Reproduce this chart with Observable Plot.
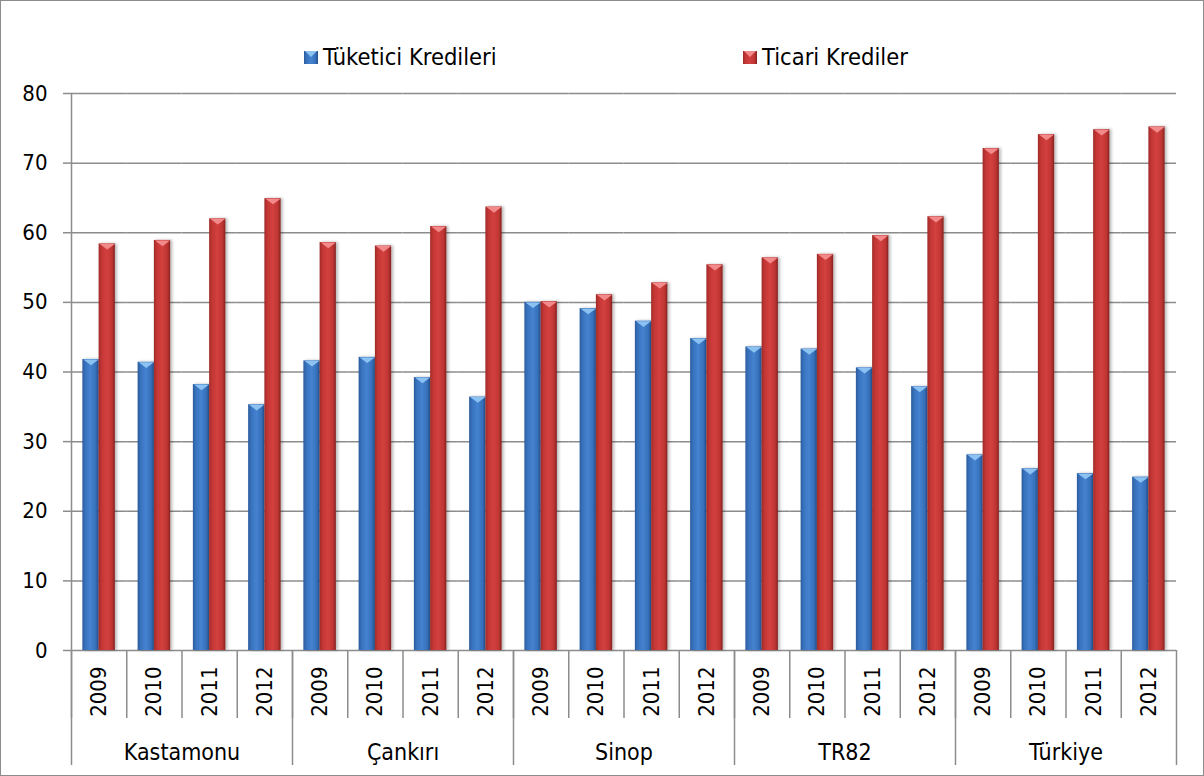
<!DOCTYPE html>
<html>
<head>
<meta charset="utf-8">
<script src="https://cdn.jsdelivr.net/npm/d3@7"></script>
<script src="https://cdn.jsdelivr.net/npm/@observablehq/plot@0.6"></script>
<style>
  html, body { margin: 0; padding: 0; background: #fff; }
  #wrap { position: relative; width: 1204px; height: 776px; overflow: hidden; background: #fff; }
  #border { position: absolute; left: 0; top: 0; width: 1204px; height: 776px; box-sizing: border-box; border: 1.5px solid #8c8c8c; pointer-events: none; }
  #chart svg { display: block; }
</style>
</head>
<body>
<div id="wrap"><div id="chart"></div><div id="border"></div></div>
<script>
// ---- data ----
const regions = ["Kastamonu", "Çankırı", "Sinop", "TR82", "Türkiye"];
const years = ["2009", "2010", "2011", "2012"];
const seriesNames = ["Tüketici Kredileri", "Ticari Krediler"];
const tuketici = [41.8, 41.4, 38.2, 35.3,  41.6, 42.1, 39.2, 36.4,  50.0, 49.1, 47.3, 44.8,  43.6, 43.3, 40.6, 37.9,  28.1, 26.1, 25.4, 24.9];
const ticari   = [58.4, 58.9, 62.0, 64.9,  58.6, 58.1, 60.9, 63.7,  50.1, 51.1, 52.8, 55.4,  56.4, 56.9, 59.6, 62.3,  72.1, 74.1, 74.8, 75.2];
const yTicks = [0, 10, 20, 30, 40, 50, 60, 70, 80];

// ---- table ----
const keys = regions.flatMap(r => years.map(y => r + "|" + y));
const rows = [];
keys.forEach((k, i) => {
  rows.push({key: k, series: seriesNames[0], value: tuketici[i]});
  rows.push({key: k, series: seriesNames[1], value: ticari[i]});
});

// ---- layout ----
const W = 1204, H = 776, mL = 71, mR = 28, mT = 93, mB = 126;
const padOuter = 0.7;
const facetW = (W - mL - mR) / keys.length;
const half = facetW / 2;
const barW = facetW / (2 + 2 * padOuter);
const grey = "#8c8c8c";
const font = "'DejaVu Sans Condensed', 'DejaVu Sans', sans-serif";

// custom downward-triangle symbol for the bevelled bar tops
const bevel = {
  draw(ctx, size) {
    const w = Math.sqrt(size / Math.PI);
    ctx.moveTo(-w, 0);
    ctx.lineTo(w, 0);
    ctx.lineTo(0, w * 0.75);
    ctx.closePath();
  }
};

const chart = Plot.plot({
  width: W, height: H,
  marginLeft: mL, marginRight: mR, marginTop: mT, marginBottom: mB,
  style: {fontFamily: font, fontStretch: "condensed", fontSize: "22px", color: "#000", background: "transparent", overflow: "visible"},
  fx: {domain: keys, padding: 0, round: false, label: null},
  x: {domain: seriesNames, paddingInner: 0, paddingOuter: padOuter, round: false, axis: null},
  y: {domain: [0, 80], label: null},
  marks: [
    Plot.gridY(yTicks, {stroke: grey, strokeOpacity: 1, strokeWidth: 1.5}),
    Plot.axisY(yTicks, {tickSize: 8, tickPadding: 16, stroke: grey, strokeOpacity: 1, strokeWidth: 1.5, fill: "#000", fontSize: 22, tickFormat: d => String(d), label: null}),
    Plot.axisFx({anchor: "bottom", tickSize: 0, tickPadding: 16, tickRotate: -90, fontSize: 22, fill: "#000", tickFormat: k => k.split("|")[1], label: null}),
    // year separators
    Plot.ruleX([0], {x: null, y1: 0, y2: 0, dx: -half, insetBottom: -68, stroke: grey, strokeWidth: 1.5}),
    // region separators
    Plot.ruleX(regions.map(r => r + "|" + years[0]), {fx: d => d, x: null, y1: 0, y2: 0, dx: -half, insetBottom: -115, stroke: grey, strokeWidth: 1.5}),
    Plot.ruleX([keys[keys.length - 1]], {fx: d => d, x: null, y1: 0, y2: 0, dx: half, insetBottom: -115, stroke: grey, strokeWidth: 1.5}),
    // y axis line
    Plot.ruleX([keys[0]], {fx: d => d, x: null, dx: -half, stroke: grey, strokeWidth: 1.5}),
    // bars
    Plot.barY(rows, {filter: d => d.series === seriesNames[0], fx: "key", x: "series", y: "value", fill: "url(#gBlue)"}),
    Plot.barY(rows, {filter: d => d.series === seriesNames[1], fx: "key", x: "series", y: "value", fill: "url(#gRed)"}),
    Plot.dot(rows, {filter: d => d.series === seriesNames[0], fx: "key", x: "series", y: "value", r: barW / 2 - 0.5, symbol: bevel, fill: "#8cc2f2", stroke: "none"}),
    Plot.dot(rows, {filter: d => d.series === seriesNames[1], fx: "key", x: "series", y: "value", r: barW / 2 - 0.5, symbol: bevel, fill: "#f2898a", stroke: "none"}),
    // region labels
    Plot.text(regions, {fx: r => r + "|" + years[1], text: d => d, frameAnchor: "bottom", dx: half, dy: 102, lineAnchor: "middle", fontSize: 23, fill: "#000"})
  ]
});

const svg = d3.select(chart);
svg.insert("defs", ":first-child").html(`
  <linearGradient id="gBlue" x1="0" y1="0" x2="1" y2="0">
    <stop offset="0" stop-color="#2b5c9c"/>
    <stop offset="0.18" stop-color="#3872bd"/>
    <stop offset="0.5" stop-color="#4582d0"/>
    <stop offset="0.82" stop-color="#3670ba"/>
    <stop offset="1" stop-color="#234c86"/>
  </linearGradient>
  <linearGradient id="gRed" x1="0" y1="0" x2="1" y2="0">
    <stop offset="0" stop-color="#9e2b29"/>
    <stop offset="0.18" stop-color="#c33634"/>
    <stop offset="0.5" stop-color="#d3403e"/>
    <stop offset="0.82" stop-color="#bf3533"/>
    <stop offset="1" stop-color="#852321"/>
  </linearGradient>
  <filter id="shadow" x="-30%" y="-5%" width="160%" height="110%">
    <feDropShadow dx="2" dy="0" stdDeviation="1.6" flood-color="#000" flood-opacity="0.28"/>
  </filter>`);
svg.selectAll("g[aria-label='bar'] rect").attr("filter", "url(#shadow)");

// legend (drawn into the chart's top margin)
const legendItems = [
  {name: seriesNames[0], x: 304, grad: "url(#gBlue)", tri: "#8cc2f2"},
  {name: seriesNames[1], x: 743, grad: "url(#gRed)", tri: "#f2898a"}
];
const lg = svg.append("g").attr("aria-label", "legend").attr("text-anchor", "start");
legendItems.forEach(it => {
  lg.append("rect").attr("x", it.x).attr("y", 51).attr("width", 14).attr("height", 13).attr("fill", it.grad);
  lg.append("path").attr("d", `M${it.x + 1},51 L${it.x + 13},51 L${it.x + 7},57 Z`).attr("fill", it.tri);
  lg.append("text").attr("x", it.x + 19).attr("y", 65).attr("font-size", 23.5).attr("text-anchor", "start").attr("fill", "#000").text(it.name);
});

document.getElementById("chart").appendChild(chart);
</script>
</body>
</html>
